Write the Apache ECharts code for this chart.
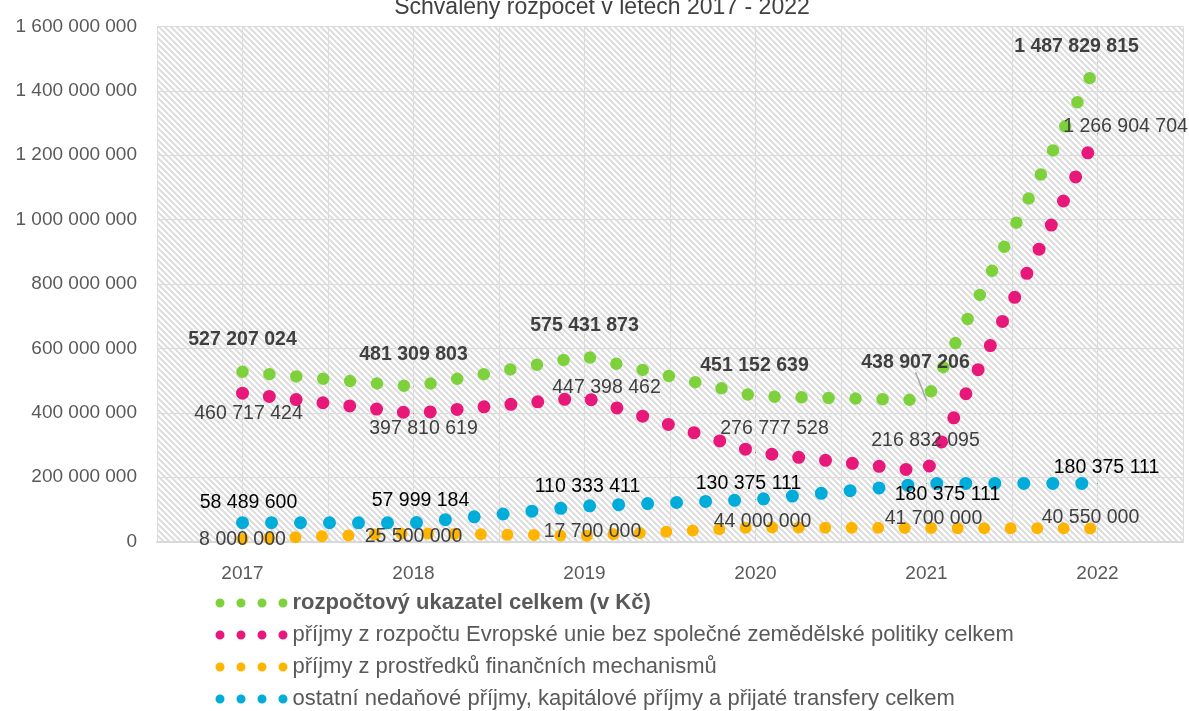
<!DOCTYPE html>
<html>
<head>
<meta charset="utf-8">
<script src="https://cdn.jsdelivr.net/npm/echarts@6/dist/echarts.min.js"></script>
<style>
  html, body { margin: 0; padding: 0; background: #fff; }
  #chart { width: 1189px; height: 711px; }
</style>
</head>
<body>
<div id="chart"></div>
<script>
const years = [2017, 2018, 2019, 2020, 2021, 2022]
const seriesNames = [
  'rozpočtový ukazatel celkem (v Kč)',
  'příjmy z rozpočtu Evropské unie bez společné zemědělské politiky celkem',
  'příjmy z prostředků finančních mechanismů',
  'ostatní nedaňové příjmy, kapitálové příjmy a přijaté transfery celkem',
]
const totalBudget = [527207024, 481309803, 575431873, 451152639, 438907206, 1487829815]
const euIncome = [460717424, 397810619, 447398462, 276777528, 216832095, 1266904704]
const finMechanisms = [8000000, 25500000, 17700000, 44000000, 41700000, 40550000]
const otherIncome = [58489600, 57999184, 110333411, 130375111, 180375111, 180375111]

// where each data label sits relative to its point (px)
const totalLabelPos = [[0, -32], [0, -32], [0, -31], [-1, -31], [-11, -38], [-21, -16]]
const euLabelPos = [[6, 20], [10, 15], [22, -10], [19, -24], [-1, -31], [28, -7]]
const finLabelPos = [[0, 1], [0, 3], [8, -4], [7, -6], [7, -9], [-7, -11]]
const otherLabelPos = [[6, -20], [7, -22], [3, -19], [-7, -16], [21, 11], [9, -16]]

const FONT = '"Liberation Sans", Arial, sans-serif'

function fmt(v) {
  return String(v).replace(/\B(?=(\d{3})+(?!\d))/g, ' ')
}

function hatch() {
  const c = document.createElement('canvas')
  c.width = 6
  c.height = 6
  const g = c.getContext('2d')
  g.fillStyle = '#ffffff'
  g.fillRect(0, 0, 6, 6)
  g.strokeStyle = '#dddddd'
  g.lineWidth = 2
  g.beginPath()
  g.moveTo(-1, -1); g.lineTo(7, 7)
  g.moveTo(-1, 5); g.lineTo(1, 7)
  g.moveTo(5, -1); g.lineTo(7, 1)
  g.stroke()
  return c
}

function makeSeries(name, values, offsets, color, width, gap, labelColor, bold) {
  return {
    name,
    type: 'line',
    symbol: 'circle',
    symbolSize: 1,
    itemStyle: { color },
    lineStyle: { color, width, type: [0, gap], cap: 'round', join: 'round' },
    label: {
      show: true,
      position: 'inside',
      color: labelColor,
      fontFamily: FONT,
      fontSize: 19.5,
      fontWeight: bold ? 'bold' : 'normal',
      formatter: (p) => fmt(p.value[1]),
    },
    emphasis: { disabled: true },
    data: values.map((v, i) => ({
      value: [years[i], v],
      label: { offset: offsets[i] },
    })),
  }
}

const series = [
  makeSeries(seriesNames[0], totalBudget, totalLabelPos, '#7dd13b', 12.5, 27, '#404040', true),
  makeSeries(seriesNames[1], euIncome, euLabelPos, '#e8177a', 13, 27, '#404040', false),
  makeSeries(seriesNames[2], finMechanisms, finLabelPos, '#ffb500', 12, 26.5, '#404040', false),
  makeSeries(seriesNames[3], otherIncome, otherLabelPos, '#00acd9', 13, 29, '#000000', false),
]
// leader line for the crowded 2021 total label
series[0].data[4].labelLine = { show: true, lineStyle: { color: '#a6a6a6', width: 1.5 } }

const dots = 'path://M0,4.5a4.5,4.5 0 1,0 9,0a4.5,4.5 0 1,0 -9,0Z' +
  'M21,4.5a4.5,4.5 0 1,0 9,0a4.5,4.5 0 1,0 -9,0Z' +
  'M42,4.5a4.5,4.5 0 1,0 9,0a4.5,4.5 0 1,0 -9,0Z' +
  'M63,4.5a4.5,4.5 0 1,0 9,0a4.5,4.5 0 1,0 -9,0Z'

const chart = echarts.init(document.getElementById('chart'), null, { renderer: 'canvas' })
chart.setOption({
  animation: false,
  backgroundColor: '#ffffff',
  title: {
    text: 'Schválený rozpočet v letech 2017 - 2022',
    left: 597,
    textAlign: 'center',
    top: -9,
    textStyle: { color: '#404040', fontFamily: FONT, fontSize: 23, fontWeight: 'normal' },
  },
  grid: {
    left: 157,
    right: 6,
    top: 26.5,
    bottom: 169.5,
    show: true,
    borderWidth: 0,
    backgroundColor: { image: hatch(), repeat: 'repeat' },
  },
  legend: {
    orient: 'vertical',
    left: 215.5,
    top: 592,
    height: 119,
    padding: 0,
    itemWidth: 72,
    itemHeight: 9,
    itemGap: 10,
    icon: dots,
    textStyle: { color: '#595959', fontFamily: FONT, fontSize: 22 },
    data: seriesNames.map((n, i) => (i === 0 ? { name: n, textStyle: { fontWeight: 'bold' } } : { name: n })),
  },
  xAxis: {
    type: 'value',
    min: 2016.5,
    max: 2022.5,
    interval: 0.5,
    axisLine: { show: true, lineStyle: { color: '#d9d9d9', width: 2 } },
    axisTick: { show: false },
    axisLabel: {
      color: '#595959',
      fontFamily: FONT,
      fontSize: 19,
      margin: 23,
      formatter: (v) => (Number.isInteger(v) ? String(v) : ''),
    },
    splitLine: { show: true, lineStyle: { color: '#dcdcdc', width: 1 } },
  },
  yAxis: {
    type: 'value',
    min: 0,
    max: 1600000000,
    interval: 200000000,
    axisLine: { show: false },
    axisTick: { show: false },
    axisLabel: {
      color: '#595959',
      fontFamily: FONT,
      fontSize: 19,
      margin: 20,
      formatter: (v) => fmt(v),
    },
    splitLine: { lineStyle: { color: '#dcdcdc', width: 1 } },
  },
  series,
})
</script>
</body>
</html>
